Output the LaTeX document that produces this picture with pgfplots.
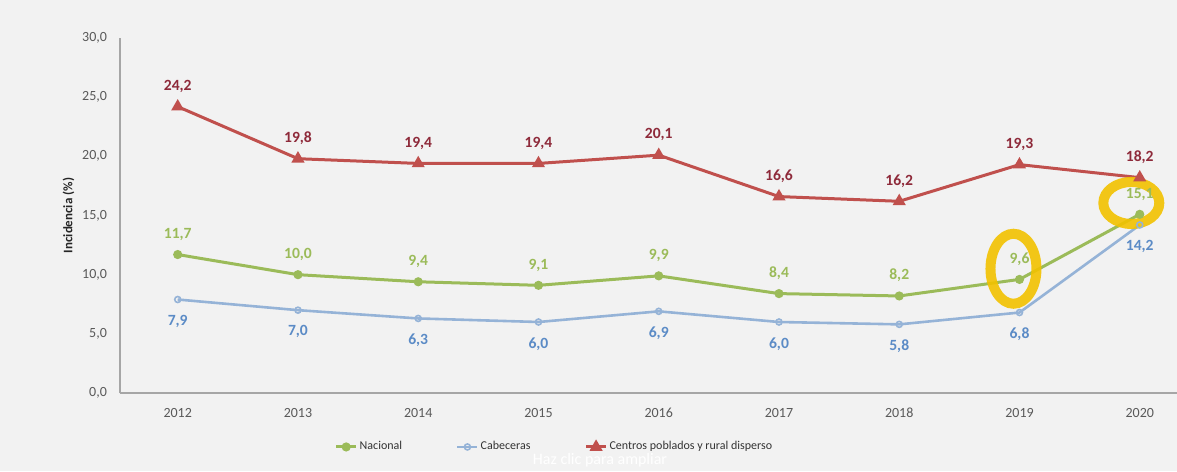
\documentclass[border=0pt]{standalone}
\usepackage{pgfplots}
\pgfplotsset{compat=1.18}
\usepackage{fontspec}
\setmainfont{Carlito}
\definecolor{bgc}{HTML}{F2F2F2}
\definecolor{nac}{HTML}{9BBB59}
\definecolor{nacl}{HTML}{9BBB59}
\definecolor{cab}{HTML}{95B3D7}
\definecolor{cabl}{HTML}{5B8BC6}
\definecolor{cen}{HTML}{C0504D}
\definecolor{cenl}{HTML}{8E2A3A}
\definecolor{tk}{HTML}{595959}
\definecolor{hl}{HTML}{F2C200}
\begin{document}
\begin{tikzpicture}
\path[use as bounding box] (0pt,0pt) rectangle (588.5pt,235.5pt);
\clip (0pt,0pt) rectangle (588.5pt,235.5pt);
\fill[bgc] (0pt,0pt) rectangle (588.5pt,235.5pt);
\begin{axis}[
  at={(60pt,39pt)}, anchor=south west,
  scale only axis, width=528.5pt, height=177.5pt,
  xmin=-0.48, xmax=8.31, ymin=0, ymax=30,
  axis x line=bottom, axis y line=left,
  axis line style={-, draw=gray!70, line width=0.8pt},
  xtick={0,...,8},
  xticklabels={2012,2013,2014,2015,2016,2017,2018,2019,2020},
  ytick={0,5,...,30},
  major tick length=0pt,
  tick label style={font=\fontsize{7}{8}\selectfont, text=tk},
  /pgf/number format/assume math mode=true,
  yticklabel style={/pgf/number format/fixed, /pgf/number format/fixed zerofill,
    /pgf/number format/precision=1, /pgf/number format/use comma, xshift=-3pt},
  xticklabel style={yshift=-4pt},
  ylabel={\textbf{Incidencia (\%)}},
  ylabel style={font=\fontsize{6.5}{7}\selectfont, text=black!85, yshift=-3pt},
  point meta=explicit symbolic,
  nodes near coords,
  every node near coord/.append style={font=\bfseries\fontsize{7.8}{9}\selectfont},
  legend columns=3,
  legend style={at={(0.411,-0.152)}, anchor=center, draw=none, fill=none,
    font=\fontsize{6}{7}\selectfont, text=black!80,
    nodes={inner xsep=1pt},
    /tikz/every even column/.append style={column sep=26pt}},
  legend cell align=left,
  legend image code/.code={\draw[#1] (0pt,0pt) -- (10pt,0pt); \draw[#1, only marks] plot coordinates {(5pt,0pt)};},
]
\addplot[color=nac, line width=1.5pt, mark=*, mark size=1.5pt,
  every node near coord/.append style={text=nacl, anchor=south, yshift=3pt}]
  coordinates {(0,11.7)[11,7] (1,10.0)[10,0] (2,9.4)[9,4] (3,9.1)[9,1] (4,9.9)[9,9]
               (5,8.4)[8,4] (6,8.2)[8,2] (7,9.6)[9,6] (8,15.1)[15,1]};
\addlegendentry{Nacional}
\addplot[color=cab, line width=1.3pt, mark=o, mark size=1.5pt, mark options={fill=white, line width=0.8pt},
  every node near coord/.append style={text=cabl, anchor=north, yshift=-4pt}]
  coordinates {(0,7.9)[7,9] (1,7.0)[7,0] (2,6.3)[6,3] (3,6.0)[6,0] (4,6.9)[6,9]
               (5,6.0)[6,0] (6,5.8)[5,8] (7,6.8)[6,8] (8,14.2)[14,2]};
\addlegendentry{Cabeceras}
\addplot[color=cen, line width=1.5pt, mark=triangle*, mark size=2.3pt,
  every node near coord/.append style={text=cenl, anchor=south, yshift=3pt}]
  coordinates {(0,24.2)[24,2] (1,19.8)[19,8] (2,19.4)[19,4] (3,19.4)[19,4] (4,20.1)[20,1]
               (5,16.6)[16,6] (6,16.2)[16,2] (7,19.3)[19,3] (8,18.2)[18,2]};
\addlegendentry{Centros poblados y rural disperso}
\draw[hl, line width=5pt, opacity=0.9] (axis cs:6.95,10.5) ellipse [x radius=11.5pt, y radius=17.5pt];
\draw[hl, line width=5pt, opacity=0.9] (axis cs:7.93,16.06) ellipse [x radius=14pt, y radius=10.5pt];
\end{axis}
\node[text=white, font=\fontsize{8}{9}\selectfont] at (300pt,5.5pt) {Haz clic para ampliar};
\end{tikzpicture}
\end{document}
